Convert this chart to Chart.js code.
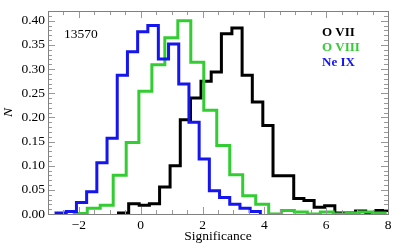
<!DOCTYPE html>
<html>
<head>
<meta charset="utf-8">
<script src="https://cdn.jsdelivr.net/npm/chart.js@4.4.1/dist/chart.umd.min.js"></script>
<style>
  html, body { margin: 0; padding: 0; background: #fff; }
  canvas { display: block; }
</style>
</head>
<body>
<canvas id="sigChart" width="399" height="250"></canvas>
<script>
// Bin left edges (last entry is the right edge of the final bin) and normalised counts
const ovii_edges = [-0.72, -0.39, -0.05, 0.28, 0.61, 0.95, 1.28, 1.61, 1.95, 2.28, 2.61, 2.95, 3.28, 3.61,
    3.95, 4.28, 4.61, 4.95, 5.28, 5.61, 5.95, 6.28, 6.61, 6.95, 7.28, 7.61, 7.95, 8.28];
const ovii_vals = [0.002, 0.021, 0.018, 0.021, 0.056, 0.100, 0.195, 0.240, 0.275, 0.294, 0.373, 0.385, 0.287,
    0.232, 0.183, 0.079, 0.079, 0.032, 0.028, 0.014, 0.017, 0.002, 0.002, 0.006, 0.002, 0.007, 0.007];

const oviii_edges = [-2.15, -1.73, -1.31, -0.89, -0.47, -0.06, 0.36, 0.78, 1.20, 1.62, 2.04, 2.46, 2.88,
    3.30, 3.72, 4.14, 4.55, 4.97, 5.39, 5.81, 6.23, 6.65, 7.07, 7.49, 7.91];
const oviii_vals = [0.001, 0.012, 0.018, 0.080, 0.148, 0.254, 0.309, 0.365, 0.400, 0.314, 0.215, 0.142,
    0.081, 0.038, 0.020, 0.000, 0.007, 0.004, 0.000, 0.004, 0.000, 0.002, 0.004, 0.002];

const neix_edges = [-2.74, -2.41, -2.08, -1.75, -1.42, -1.09, -0.76, -0.43, -0.10, 0.23, 0.57, 0.90, 1.23,
    1.56, 1.89, 2.22, 2.55, 2.88, 3.21, 3.54, 3.87];
const neix_vals = [0.002, 0.005, 0.024, 0.046, 0.106, 0.157, 0.287, 0.336, 0.377, 0.390, 0.321, 0.352,
    0.269, 0.190, 0.114, 0.048, 0.034, 0.020, 0.012, 0.005];

const xTicks = [-2, 0, 2, 4, 6, 8];
const yTicks = [0.00, 0.05, 0.10, 0.15, 0.20, 0.25, 0.30, 0.35, 0.40];
const labels = ['O VII', 'O VIII', 'Ne IX'];
const colors = ['#000000', '#33cc33', '#1515f0'];
const obsId = '13570';

// histogram outline: rise from zero, steps, fall back to zero
function histPoints(edges, vals) {
    const pts = [{ x: edges[0], y: 0 }];
    vals.forEach((v, i) => pts.push({ x: edges[i], y: v }));
    pts.push({ x: edges[vals.length], y: vals[vals.length - 1] });
    pts.push({ x: edges[vals.length], y: 0 });
    return pts;
}

// frame with inward major/minor ticks, plus the text labels
const framePlugin = {
    id: 'frame',
    afterDraw(chart) {
        const { ctx, chartArea: a, scales: { x, y } } = chart;
        ctx.save();
        ctx.strokeStyle = '#999';
        ctx.lineWidth = 1;
        ctx.beginPath();
        for (let v = -3; v <= 8.001; v += 0.5) {
            const px = Math.round(x.getPixelForValue(v)) + 0.5;
            const len = Math.abs(v % 2) < 0.001 ? 7 : 4;
            ctx.moveTo(px, a.bottom); ctx.lineTo(px, a.bottom - len);
            ctx.moveTo(px, a.top); ctx.lineTo(px, a.top + len);
        }
        for (let i = 0; i <= 42; i++) {
            const py = Math.round(y.getPixelForValue(i / 100)) + 0.5;
            const len = i % 5 === 0 ? 7 : 4;
            ctx.moveTo(a.left, py); ctx.lineTo(a.left + len, py);
            ctx.moveTo(a.right, py); ctx.lineTo(a.right - len, py);
        }
        ctx.stroke();
        ctx.strokeStyle = '#808080';
        ctx.strokeRect(Math.round(a.left) + 0.5, Math.round(a.top) + 0.5,
            Math.round(a.right - a.left), Math.round(a.bottom - a.top));

        ctx.textBaseline = 'middle';
        ctx.textAlign = 'left';
        ctx.fillStyle = '#000';
        ctx.font = "13.5px 'Liberation Serif'";
        ctx.fillText(obsId, a.left + 16, a.top + 23);
        ctx.font = "bold 13px 'Liberation Serif'";
        labels.forEach((t, i) => {
            ctx.fillStyle = colors[i];
            ctx.fillText(t, a.left + 274, a.top + 22 + i * 15);
        });
        ctx.restore();
    }
};

Chart.defaults.font.family = "'Liberation Serif', serif";
Chart.defaults.color = '#000';

new Chart(document.getElementById('sigChart'), {
    type: 'line',
    data: {
        datasets: [
            { label: labels[0], data: histPoints(ovii_edges, ovii_vals), borderColor: colors[0], order: 3 },
            { label: labels[1], data: histPoints(oviii_edges, oviii_vals), borderColor: colors[1], order: 2 },
            { label: labels[2], data: histPoints(neix_edges, neix_vals), borderColor: colors[2], order: 1 }
        ]
    },
    options: {
        responsive: false,
        animation: false,
        layout: { padding: { left: 0, right: 11, top: 5, bottom: 0 } },
        datasets: {
            line: { stepped: true, borderWidth: 3, pointRadius: 0, fill: false }
        },
        plugins: { legend: { display: false }, tooltip: { enabled: false } },
        scales: {
            x: {
                type: 'linear',
                min: -3,
                max: 8,
                afterBuildTicks: s => { s.ticks = xTicks.map(v => ({ value: v })); },
                afterFit: s => { s.height = 36; },
                grid: { display: false, drawTicks: false },
                border: { display: false },
                ticks: {
                    padding: 3,
                    font: { size: 13.5 },
                    callback: v => (v < 0 ? '\u2212' + Math.abs(v) : String(v))
                },
                title: {
                    display: true,
                    text: 'Significance',
                    font: { size: 13.5 },
                    padding: { top: 0, bottom: 5 }
                }
            },
            y: {
                min: 0,
                max: 0.42,
                afterBuildTicks: s => { s.ticks = yTicks.map(v => ({ value: v })); },
                afterFit: s => { s.width = 48; },
                grid: { display: false, drawTicks: false },
                border: { display: false },
                ticks: {
                    padding: 3,
                    font: { size: 13.5 },
                    callback: v => v.toFixed(2)
                },
                title: {
                    display: true,
                    text: 'N',
                    font: { size: 13.5, style: 'italic' },
                    padding: 0
                }
            }
        }
    },
    plugins: [framePlugin]
});
</script>
</body>
</html>
